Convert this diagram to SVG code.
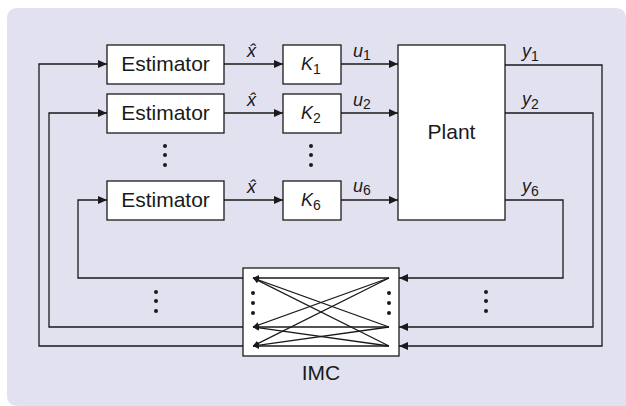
<svg xmlns="http://www.w3.org/2000/svg" width="626" height="406" viewBox="0 0 626 406">
<style>
.box{fill:#fff;stroke:#1a1a1a;stroke-width:1.3}
.ln{fill:none;stroke:#1a1a1a;stroke-width:1.3}
.lab{font-family:"Liberation Sans",Arial,sans-serif;font-size:21px;fill:#1a1a1a}
.it{font-family:"Liberation Sans",Arial,sans-serif;font-style:italic;font-size:18px;fill:#1a1a1a}
.sub{font-style:normal;font-size:14px}
.dot{fill:#1a1a1a}
</style>
<defs>
<marker id="ar" markerUnits="userSpaceOnUse" markerWidth="10" markerHeight="10" refX="9" refY="4.5" orient="auto">
<path d="M0,0.5 L9,4.5 L0,8.5 Z" fill="#1a1a1a"/>
</marker>
<marker id="sa" markerUnits="userSpaceOnUse" markerWidth="8" markerHeight="8" refX="6" refY="3" orient="auto">
<path d="M0,0 L6,3 L0,6 Z" fill="#1a1a1a"/>
</marker>
</defs>
<path d="M18,8 H615 Q626,8 626,19 V406 H18 Q7,406 7,395 V19 Q7,8 18,8 Z" fill="#e1e1f0"/>
<g id="connectors">
<path class="ln" d="M224,64 H283" marker-end="url(#ar)"/>
<path class="ln" d="M224,113 H283" marker-end="url(#ar)"/>
<path class="ln" d="M224,200 H283" marker-end="url(#ar)"/>
<path class="ln" d="M341,64 H398" marker-end="url(#ar)"/>
<path class="ln" d="M341,113 H398" marker-end="url(#ar)"/>
<path class="ln" d="M341,200 H398" marker-end="url(#ar)"/>
<path class="ln" d="M505,65 H602 V346 H399" marker-end="url(#ar)"/>
<path class="ln" d="M505,113 H593 V327 H399" marker-end="url(#ar)"/>
<path class="ln" d="M505,200 H563 V278 H399" marker-end="url(#ar)"/>
<path class="ln" d="M243,278 H78 V200 H107" marker-end="url(#ar)"/>
<path class="ln" d="M243,327 H49 V113 H107" marker-end="url(#ar)"/>
<path class="ln" d="M243,346 H39 V64 H107" marker-end="url(#ar)"/>
</g>
<g id="est1"><rect class="box" x="107" y="45" width="117" height="39"/><text class="lab" x="165.5" y="71" text-anchor="middle">Estimator</text></g>
<g id="est2"><rect class="box" x="107" y="94" width="117" height="39"/><text class="lab" x="165.5" y="120" text-anchor="middle">Estimator</text></g>
<g id="est6"><rect class="box" x="107" y="181" width="117" height="39"/><text class="lab" x="165.5" y="207" text-anchor="middle">Estimator</text></g>
<g id="k1"><rect class="box" x="283" y="45" width="58" height="39"/><text class="it" x="301" y="70">K<tspan class="sub" dy="4">1</tspan></text></g>
<g id="k2"><rect class="box" x="283" y="94" width="58" height="39"/><text class="it" x="301" y="119">K<tspan class="sub" dy="4">2</tspan></text></g>
<g id="k6"><rect class="box" x="283" y="181" width="58" height="39"/><text class="it" x="301" y="206">K<tspan class="sub" dy="4">6</tspan></text></g>
<g id="plant"><rect class="box" x="398" y="45" width="107" height="175"/><text class="lab" x="451.5" y="139" text-anchor="middle">Plant</text></g>
<g id="imc">
<rect class="box" x="243" y="268" width="156" height="88"/>
<g class="ln">
<line x1="389" y1="278" x2="253" y2="278" marker-end="url(#sa)"/>
<line x1="389" y1="327" x2="253" y2="278" marker-end="url(#sa)"/>
<line x1="389" y1="346" x2="253" y2="278" marker-end="url(#sa)"/>
<line x1="389" y1="278" x2="253" y2="327" marker-end="url(#sa)"/>
<line x1="389" y1="327" x2="253" y2="327" marker-end="url(#sa)"/>
<line x1="389" y1="346" x2="253" y2="327" marker-end="url(#sa)"/>
<line x1="389" y1="278" x2="253" y2="346" marker-end="url(#sa)"/>
<line x1="389" y1="327" x2="253" y2="346" marker-end="url(#sa)"/>
<line x1="389" y1="346" x2="253" y2="346" marker-end="url(#sa)"/>
</g>
<circle class="dot" cx="253" cy="293" r="2"/><circle class="dot" cx="253" cy="303" r="2"/><circle class="dot" cx="253" cy="313" r="2"/>
<circle class="dot" cx="389" cy="293" r="2"/><circle class="dot" cx="389" cy="303" r="2"/><circle class="dot" cx="389" cy="313" r="2"/>
<text class="lab" x="321" y="380" text-anchor="middle">IMC</text>
</g>
<g id="labels">
<text class="it" x="247" y="57">x̂</text>
<text class="it" x="247" y="106">x̂</text>
<text class="it" x="247" y="193">x̂</text>
<text class="it" x="353" y="57">u<tspan class="sub" dy="3">1</tspan></text>
<text class="it" x="353" y="106">u<tspan class="sub" dy="3">2</tspan></text>
<text class="it" x="353" y="192">u<tspan class="sub" dy="3">6</tspan></text>
<text class="it" x="522" y="57">y<tspan class="sub" dy="4">1</tspan></text>
<text class="it" x="522" y="105">y<tspan class="sub" dy="4">2</tspan></text>
<text class="it" x="522" y="192">y<tspan class="sub" dy="4">6</tspan></text>
</g>
<g id="dots">
<circle class="dot" cx="165" cy="146" r="2"/><circle class="dot" cx="165" cy="155" r="2"/><circle class="dot" cx="165" cy="165" r="2"/>
<circle class="dot" cx="311" cy="146" r="2"/><circle class="dot" cx="311" cy="155" r="2"/><circle class="dot" cx="311" cy="165" r="2"/>
<circle class="dot" cx="156" cy="292" r="2"/><circle class="dot" cx="156" cy="301" r="2"/><circle class="dot" cx="156" cy="311" r="2"/>
<circle class="dot" cx="486" cy="292" r="2"/><circle class="dot" cx="486" cy="301" r="2"/><circle class="dot" cx="486" cy="311" r="2"/>
</g>
</svg>
